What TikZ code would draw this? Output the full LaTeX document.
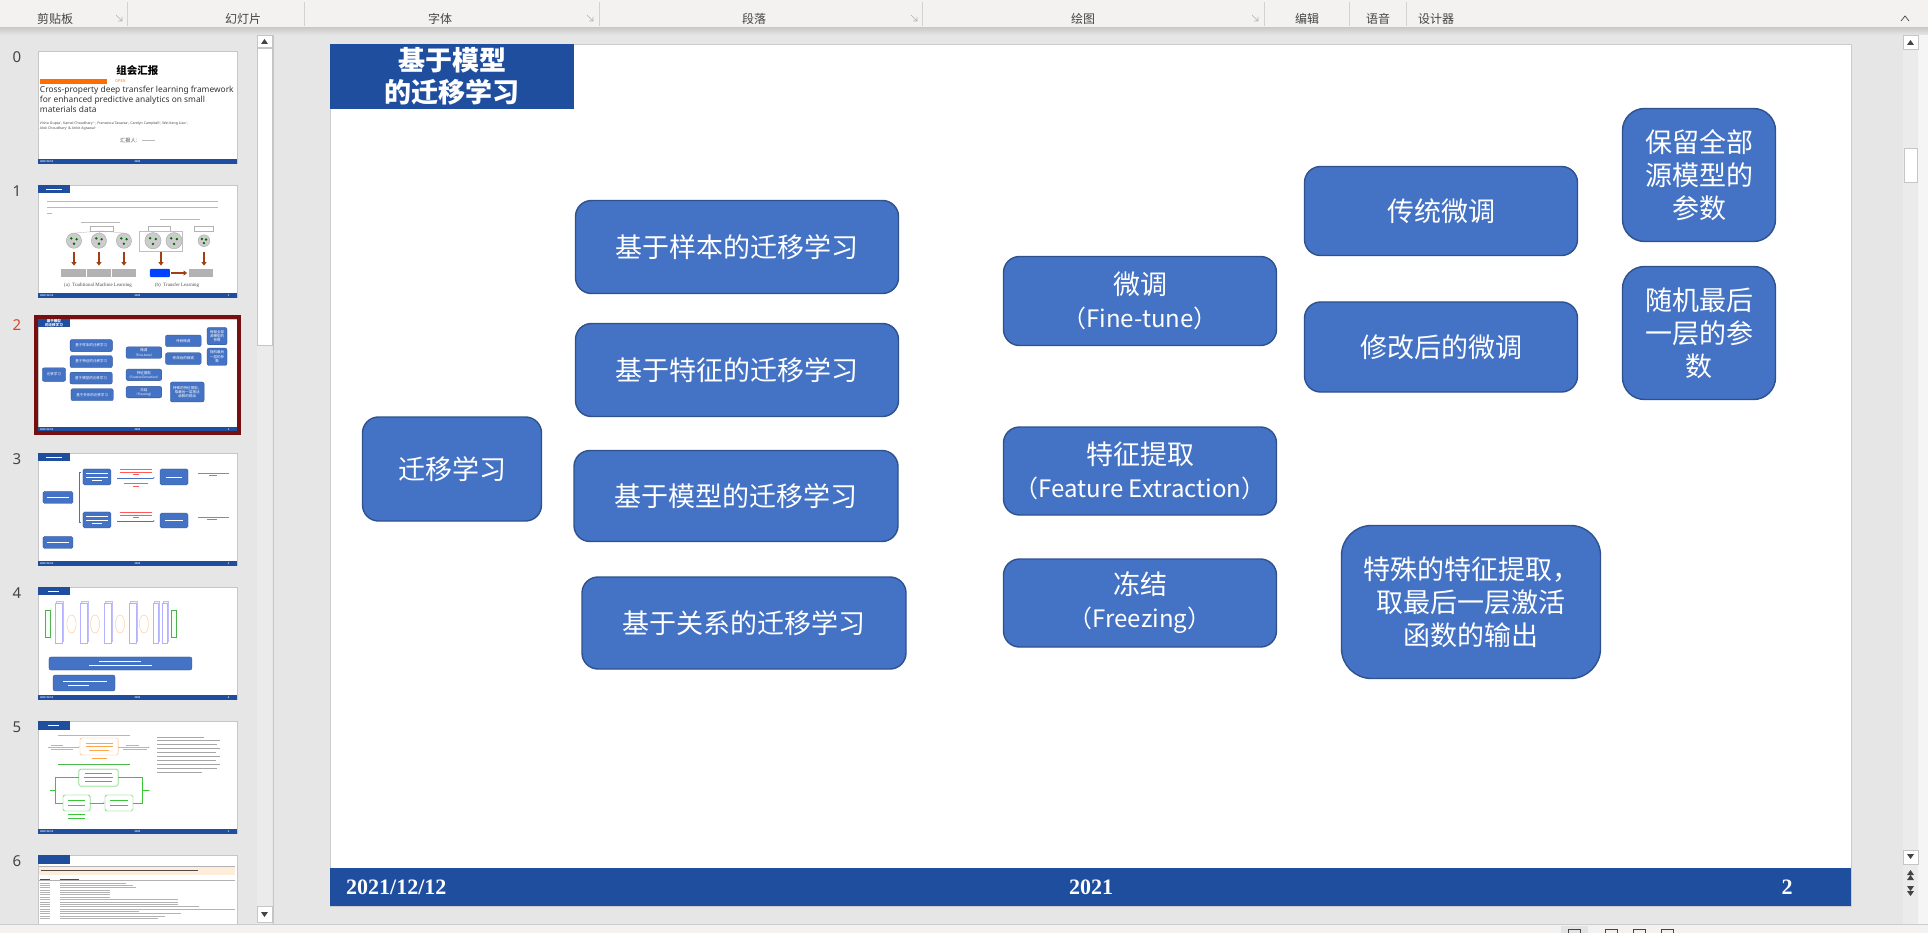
\documentclass[tikz,border=0pt]{standalone}
\usepackage{fontspec}
\setmainfont{Liberation Serif}
\newfontfamily\cjk{Noto Sans CJK SC}
\newfontfamily\uisans{Noto Sans}
\usepackage{tikz}
\usetikzlibrary{arrows.meta}
\usepackage{xcolor}

\definecolor{boxblue}{HTML}{4472C4}
\definecolor{boxline}{HTML}{2F528F}
\definecolor{barblue}{HTML}{1F4E9F}
\definecolor{ribbongray}{HTML}{F3F2F1}
\definecolor{workgray}{HTML}{E6E6E6}
\definecolor{uitext}{HTML}{444444}
\definecolor{selred}{HTML}{761010}
\definecolor{numred}{HTML}{D24726}
\definecolor{arrowbrown}{HTML}{A33D12}

\begin{document}
\begin{tikzpicture}[x=1pt, y=-1pt,
  box/.style={draw=boxline, fill=boxblue, line width=1.4pt, rounded corners=16pt,
    text=white, align=center, inner sep=0pt, font=\cjk\fontsize{27}{33}\selectfont},
  tbox/.style={box, transform shape, line width=0.3pt, rounded corners=2pt},
  title/.style={fill=barblue, text=white, align=center, inner sep=0pt,
    minimum width=244, minimum height=65, font=\cjk\bfseries\fontsize{27}{32}\selectfont},
  ribbonlabel/.style={text=uitext, font=\cjk\fontsize{12}{14}\selectfont, inner sep=0pt},
  footertext/.style={text=white, font=\bfseries\fontsize{22}{24}\selectfont, inner sep=0pt},
  thumb/.style={shift={(-5.16,#1-5.76)}, scale=0.1308},
  thumbtext/.style={transform shape, inner sep=0pt},
  faint/.style={line width=1.2pt, gray!55},
]
\useasboundingbox (0,0) rectangle (1928,933);
\fill[workgray] (0,0) rectangle (1928,933);

% ribbon
\fill[ribbongray] (0,0) rectangle (1928,28);
\fill[top color=black!20, bottom color=workgray] (0,28) rectangle (1928,35);
\foreach \x in {127,304,599,922,1264,1349,1406}
  \draw[gray!35] (\x,2) -- (\x,26);
\foreach \x in {119,590,914,1255}
  \draw[gray!60, line width=0.6pt] (\x-3,15) -- (\x+3,21) (\x+3,17) -- (\x+3,21) -- (\x-1,21);
\node[ribbonlabel] (rb1) at (55,19) {剪贴板};
\node[ribbonlabel] (rb2) at (243,19) {幻灯片};
\node[ribbonlabel] (rb3) at (440,19) {字体};
\node[ribbonlabel] (rb4) at (754,19) {段落};
\node[ribbonlabel] (rb5) at (1083,19) {绘图};
\node[ribbonlabel] (rb6) at (1307,19) {编辑};
\node[ribbonlabel] (rb7) at (1378,19) {语音};
\node[ribbonlabel] (rb8) at (1436,19) {设计器};
\draw[uitext, line width=0.7pt] (1901,21) -- (1905,16) -- (1909,21);

% thumbnail pane scrollbar
\fill[gray!16] (257,35) rectangle (272,925);
\draw[gray!45, fill=white] (257,35) rectangle (272,47);
\fill[uitext] (261,44) -- (268,44) -- (264.5,39) -- cycle;
\draw[gray!45, fill=white] (257,48) rectangle (272,345);
\draw[gray!45, fill=white] (257,906) rectangle (272,922);
\fill[uitext] (261,912) -- (268,912) -- (264.5,917) -- cycle;
\draw[gray!45] (273,35) -- (273,925);

% main scrollbar
\fill[gray!16] (1903,35) rectangle (1918,925);
\fill[gray!8] (1918,35) rectangle (1928,925);
\draw[gray!45, fill=white] (1903,35) rectangle (1918,49);
\fill[uitext] (1907,45) -- (1914,45) -- (1910.5,40) -- cycle;
\draw[gray!45, fill=white] (1904,148) rectangle (1917,182);
\draw[gray!45, fill=white] (1903,850) rectangle (1918,864);
\fill[uitext] (1907,854) -- (1914,854) -- (1910.5,859) -- cycle;
\fill[uitext] (1907,875) -- (1914,875) -- (1910.5,870) -- cycle (1907,880) -- (1914,880) -- (1910.5,875) -- cycle;
\fill[uitext] (1907,886) -- (1914,886) -- (1910.5,891) -- cycle (1907,891) -- (1914,891) -- (1910.5,896) -- cycle;

% thumbnails
\foreach \k/\ty/\col in {0/51/uitext,1/185/uitext,2/319/numred,3/453/uitext,4/587/uitext,5/721/uitext,6/855/uitext}{
  \fill[white] (38,\ty) rectangle (237,\ty+112);
  \draw[gray!45] (38,\ty) rectangle (237,\ty+112);
  \node[text=\col, font=\uisans\fontsize{15}{15}\selectfont, inner sep=0pt] (n\k) at (17,\ty+6) {\k};
  \ifnum\k<6
  \begin{scope}[thumb=\ty]
    \fill[barblue] (330,868) rectangle (1851,906);
    \node[footertext, thumbtext, anchor=west] (fd\k) at (346,887) {2021/12/12};
    \node[footertext, thumbtext] (fy\k) at (1091,887) {2021};
    \node[footertext, thumbtext] (fp\k) at (1787,887) {\ifnum\k>0 \k\fi};
  \end{scope}
  \fi
}

% thumb 0
\begin{scope}[thumb=51]
  \node[thumbtext, font=\cjk\bfseries\fontsize{80}{80}\selectfont] (t0head) at (1090,190) {组会汇报};
  \fill[orange!85!red] (345,256) rectangle (857,294);
  \node[thumbtext, text=orange, font=\uisans\fontsize{30}{30}\selectfont] (t0open) at (960,275) {OPEN};
  \node[thumbtext, anchor=north west, align=left, text=black!80, font=\uisans\fontsize{64}{77}\selectfont] (t0paper) at (345,312)
    {Cross-property deep transfer learning framework\\for enhanced predictive analytics on small\\materials data};
  \node[thumbtext, anchor=north west, align=left, text=black!70, font=\uisans\fontsize{27}{38}\selectfont] (t0auth) at (345,588)
    {Vishu Gupta$^{1}$, Kamal Choudhary$^{2,3}$, Francesca Tavazza$^{2}$, Carelyn Campbell$^{2}$, Wei-keng Liao$^{1}$,\\Alok Choudhary$^{1}$ \& Ankit Agrawal$^{1}$};
  \node[thumbtext, anchor=west, text=black!70, font=\cjk\fontsize{40}{40}\selectfont] (t0rep) at (957,726) {汇报人：};
  \draw[faint] (1125,726) -- (1224,726);
\end{scope}

% thumb 1
\begin{scope}[thumb=185]
  \fill[barblue] (330,44) rectangle (574,109);
  \draw[white, line width=1pt] (390,76) -- (510,76);
  \draw[faint] (399,168) -- (1706,168) (399,214) -- (1706,214) (399,262) -- (440,262);
  \draw[faint, line width=0.6pt] (655,327) -- (955,327) (1260,304) -- (1570,304);
  \draw[gray!60, line width=0.3pt] (728,357) rectangle (904,395) (1171,357) rectangle (1339,395) (1523,357) rectangle (1668,395);
  \draw[gray!60, line width=0.3pt] (816,395) -- (605,412) (816,395) -- (796,412) (816,395) -- (987,412);
  \draw[gray!50, line width=0.3pt] (1101,396) rectangle (1430,549);
  \foreach \cx/\r in {605/58,796/58,987/58,1209/62,1370/62,1599/45}{
    \draw[gray!70, fill=gray!40, line width=0.4pt] (\cx,470) circle (\r);
    \fill[green!40!black] (\cx-0.35*\r,470-0.3*\r) circle (10) (\cx+0.35*\r,470-0.2*\r) circle (10) (\cx,470+0.4*\r) circle (10);
  }
  \foreach \ax in {605,796,987,1270,1599}
    \draw[arrowbrown, line width=2.2pt, -{Triangle[width=5pt,length=3.5pt]}] (\ax,556) -- (\ax,660);
  \foreach \bx/\ex in {506/697,705/888,896/1079,1484/1668}
    \fill[gray!60] (\bx,686) rectangle (\ex,748);
  \fill[blue!75!cyan, rounded corners=1pt] (1186,686) rectangle (1339,748);
  \draw[arrowbrown, line width=2.2pt, -{Triangle[width=5pt,length=3.5pt]}] (1350,717) -- (1470,717);
  \node[thumbtext, text=black!70, font=\fontsize{38}{38}\selectfont] (t1capa) at (789,810) {(a)\ \ Traditional Machine Learning};
  \node[thumbtext, text=black!70, font=\fontsize{38}{38}\selectfont] (t1capb) at (1393,810) {(b)\ \ Transfer Learning};
\end{scope}

% thumb 2
\begin{scope}[thumb=319]
  \node[title, transform shape] (stitle) at (452,76.5) {基于模型\\的迁移学习};
  \node[tbox, minimum width=179, minimum height=104] (sroot) at (452,469) {迁移学习};
  \node[tbox, minimum width=323, minimum height=93] (ssamp) at (737,247) {基于样本的迁移学习};
  \node[tbox, minimum width=323, minimum height=93] (sfeat) at (737,370) {基于特征的迁移学习};
  \node[tbox, minimum width=324, minimum height=91] (smodel) at (736,496) {基于模型的迁移学习};
  \node[tbox, minimum width=324, minimum height=92] (srela) at (744,623) {基于关系的迁移学习};
  \node[tbox, minimum width=273, minimum height=89] (sfine) at (1140,301) {微调\\{\fontsize{24}{33}\selectfont（Fine-tune）}};
  \node[tbox, minimum width=273, minimum height=88] (sfext) at (1140,471) {特征提取\\{\fontsize{24}{33}\selectfont（Feature Extraction）}};
  \node[tbox, minimum width=273, minimum height=88] (sfrz) at (1140,603) {冻结\\{\fontsize{24}{33}\selectfont（Freezing）}};
  \node[tbox, minimum width=273, minimum height=89] (strad) at (1441,211) {传统微调};
  \node[tbox, minimum width=273, minimum height=90] (smodi) at (1441,347) {修改后的微调};
  \node[tbox, minimum width=153, minimum height=133] (skeep) at (1699,175) {保留全部\\源模型的\\参数};
  \node[tbox, minimum width=153, minimum height=133] (srand) at (1699,333) {随机最后\\一层的参\\数};
  \node[tbox, minimum width=259, minimum height=153] (sspec) at (1471,602) {特殊的特征提取，\\取最后一层激活\\函数的输出};
\end{scope}
\draw[selred, line width=4pt] (36,317) rectangle (239,433);

% thumb 3
\begin{scope}[thumb=453]
  \fill[barblue] (330,44) rectangle (574,109);
  \draw[white, line width=1pt] (390,76) -- (510,76);
  \draw[boxline, fill=boxblue, line width=0.3pt, rounded corners=1.5pt]
    (368,338) rectangle (597,430) (368,682) rectangle (597,774)
    (674,166) rectangle (888,288) (674,495) rectangle (888,617)
    (1263,166) rectangle (1477,288) (1263,503) rectangle (1477,617);
  \draw[white, line width=0.8pt] (400,384) -- (565,384) (400,728) -- (565,728)
    (700,200) -- (862,200) (700,227) -- (862,227) (740,254) -- (820,254)
    (700,530) -- (862,530) (700,556) -- (862,556) (740,582) -- (820,582)
    (1310,227) -- (1430,227) (1300,560) -- (1440,560);
  \draw[boxblue, line width=0.6pt] (660,188) -- (643,188) -- (643,577) -- (660,577);
  \draw[boxblue, line width=0.6pt, -{Latex[length=2pt]}] (934,235) -- (1225,235);
  \draw[boxblue, line width=0.6pt, -{Latex[length=2pt]}] (934,564) -- (1225,564);
  \draw[red!65, line width=0.5pt] (960,170) -- (1200,170) (960,190) -- (1200,190) (1060,208) -- (1100,208)
    (990,275) -- (1170,275) (1060,295) -- (1100,295)
    (960,500) -- (1200,500) (960,520) -- (1200,520) (1060,538) -- (1100,538)
    (1553,197) -- (1790,197) (1640,215) -- (1700,215)
    (1553,533) -- (1790,533) (1620,551) -- (1700,551);
\end{scope}

% thumb 4
\begin{scope}[thumb=587]
  \fill[barblue] (330,44) rectangle (574,109);
  \draw[white, line width=1pt] (410,76) -- (490,76);
  \foreach \a/\b in {460/513,651/705,835/888,1026/1079,1209/1247,1278/1316}{
    \draw[blue!25, fill=blue!5, line width=0.4pt] (\a+12,152) rectangle (\b+12,460);
    \draw[blue!30, fill=white, line width=0.4pt] (\a,166) rectangle (\b,472);
  }
  \foreach \ex in {586,766,957,1140}
    \draw[orange!45, line width=0.4pt] (\ex,327) ellipse (35 and 69);
  \draw[green!40!gray, fill=green!5, line width=0.4pt] (383,220) rectangle (422,430) (1347,220) rectangle (1385,430);
  \draw[boxline, fill=boxblue, line width=0.3pt, rounded corners=2pt] (414,579) rectangle (1507,679) (445,717) rectangle (919,839);
  \draw[white, line width=0.8pt] (800,612) -- (1120,612) (720,644) -- (1200,644) (520,762) -- (860,762) (560,795) -- (720,795);
\end{scope}

% thumb 5
\begin{scope}[thumb=721]
  \fill[barblue] (330,44) rectangle (574,109);
  \draw[white, line width=1pt] (410,76) -- (490,76);
  \draw[orange!70, line width=0.5pt] (483,151) -- (1034,151);
  \draw[orange!60, fill=white, line width=0.4pt, rounded corners=1.5pt] (651,174) rectangle (942,304);
  \draw[orange!70, line width=0.4pt] (700,210) -- (900,210) (700,238) -- (900,238) (720,266) -- (870,266) (740,330) -- (860,330)
    (430,230) -- (520,230) (430,256) -- (600,256) (1000,230) -- (1100,230) (980,256) -- (1160,256);
  \draw[orange!70, line width=0.4pt, -{Latex[length=1.5pt]}] (406,243) -- (651,243);
  \draw[orange!70, line width=0.4pt, -{Latex[length=1.5pt]}] (942,243) -- (1186,243);
  \draw[green!60!black!70, line width=0.5pt] (483,373) -- (1034,373);
  \draw[green!55!gray, fill=white, line width=0.4pt, rounded corners=1.5pt]
    (643,412) rectangle (942,542) (521,610) rectangle (728,732) (842,610) rectangle (1056,732);
  \draw[green!55!gray, line width=0.4pt] (643,477) -- (460,477) -- (460,671) -- (521,671)
    (942,477) -- (1130,477) -- (1130,671) -- (1056,671) (420,575) -- (460,575);
  \draw[green!55!gray, line width=0.4pt, -{Latex[length=1.5pt]}] (728,671) -- (842,671);
  \draw[green!55!gray, line width=0.4pt, -{Latex[length=1.5pt]}] (1130,575) -- (1186,575);
  \draw[green!55!gray, line width=0.4pt] (690,445) -- (895,445) (680,475) -- (905,475) (690,505) -- (895,505)
    (560,650) -- (690,650) (560,690) -- (690,690) (880,650) -- (1020,650) (880,690) -- (1020,690)
    (560,760) -- (690,760) (560,785) -- (690,785);
  \foreach \ly/\lx in {166/1600,196/1723,226/1700,256/1723,286/1690,316/1723,346/1690,376/1723,406/1700,436/1580}
    \draw[faint, line width=0.8pt, gray!70] (1240,\ly) -- (\lx,\ly);
\end{scope}

% thumb 6
\begin{scope}[thumb=855]
  \fill[barblue] (330,44) rectangle (574,109);
  \fill[orange!14] (338,127) rectangle (1836,196);
  \draw[black!70, line width=0.8pt] (350,160) -- (1550,160);
  \draw[gray!60, line width=0.3pt] (338,127) -- (1836,127) (338,240) -- (1836,240);
  \draw[black!70, line width=0.6pt] (345,227) -- (420,227) (500,227) -- (640,227);
  \foreach \ry/\rl in {258/1000,276/1060,294/1080,312/880,330/880,348/880,366/880,384/1400,402/1400,420/1400,438/1560,456/1836,474/1100,492/1420,510/1300,528/1250}
    \draw[gray!60, line width=0.6pt] (345,\ry) -- (420,\ry) (500,\ry) -- (\rl,\ry);
\end{scope}

% slide
\fill[white] (330,44) rectangle (1851,906);
\draw[gray!40] (330,44) rectangle (1851,906);
\node[title] (title) at (452,76.5) {基于模型\\的迁移学习};

\node[box, minimum width=179, minimum height=104] (root) at (452,469) {迁移学习};

% methods
\node[box, minimum width=323, minimum height=93] (samp) at (737,247) {基于样本的迁移学习};
\node[box, minimum width=323, minimum height=93] (feat) at (737,370) {基于特征的迁移学习};
\node[box, minimum width=324, minimum height=91] (model) at (736,496) {基于模型的迁移学习};
\node[box, minimum width=324, minimum height=92] (rela) at (744,623) {基于关系的迁移学习};

% model based
\node[box, minimum width=273, minimum height=89] (fine) at (1140,301) {微调\\{\fontsize{24}{33}\selectfont（Fine-tune）}};
\node[box, minimum width=273, minimum height=88] (fext) at (1140,471) {特征提取\\{\fontsize{24}{33}\selectfont（Feature Extraction）}};
\node[box, minimum width=273, minimum height=88] (frz) at (1140,603) {冻结\\{\fontsize{24}{33}\selectfont（Freezing）}};

% fine-tune
\node[box, minimum width=273, minimum height=89] (trad) at (1441,211) {传统微调};
\node[box, minimum width=273, minimum height=90] (modi) at (1441,347) {修改后的微调};
\node[box, minimum width=153, minimum height=133, rounded corners=22pt] (keep) at (1699,175) {保留全部\\源模型的\\参数};
\node[box, minimum width=153, minimum height=133, rounded corners=22pt] (rand) at (1699,333) {随机最后\\一层的参\\数};

% feature extraction
\node[box, minimum width=259, minimum height=153, rounded corners=30pt] (spec) at (1471,602) {特殊的特征提取，\\取最后一层激活\\函数的输出};

% footer
\fill[barblue] (330,868) rectangle (1851,906);
\node[footertext, anchor=west] (fdate) at (346,887) {2021/12/12};
\node[footertext] (fyear) at (1091,887) {2021};
\node[footertext] (fpage) at (1787,887) {2};

% status bar
\fill[ribbongray] (0,925) rectangle (1928,933);
\draw[gray!40] (0,924.5) -- (1928,924.5);
\fill[gray!22] (1561,926) rectangle (1588,933);
\foreach \x in {1574,1611,1639,1667}
  \draw[uitext, line width=0.6pt] (\x-6,929) rectangle (\x+6,938);
\end{tikzpicture}
\end{document}
